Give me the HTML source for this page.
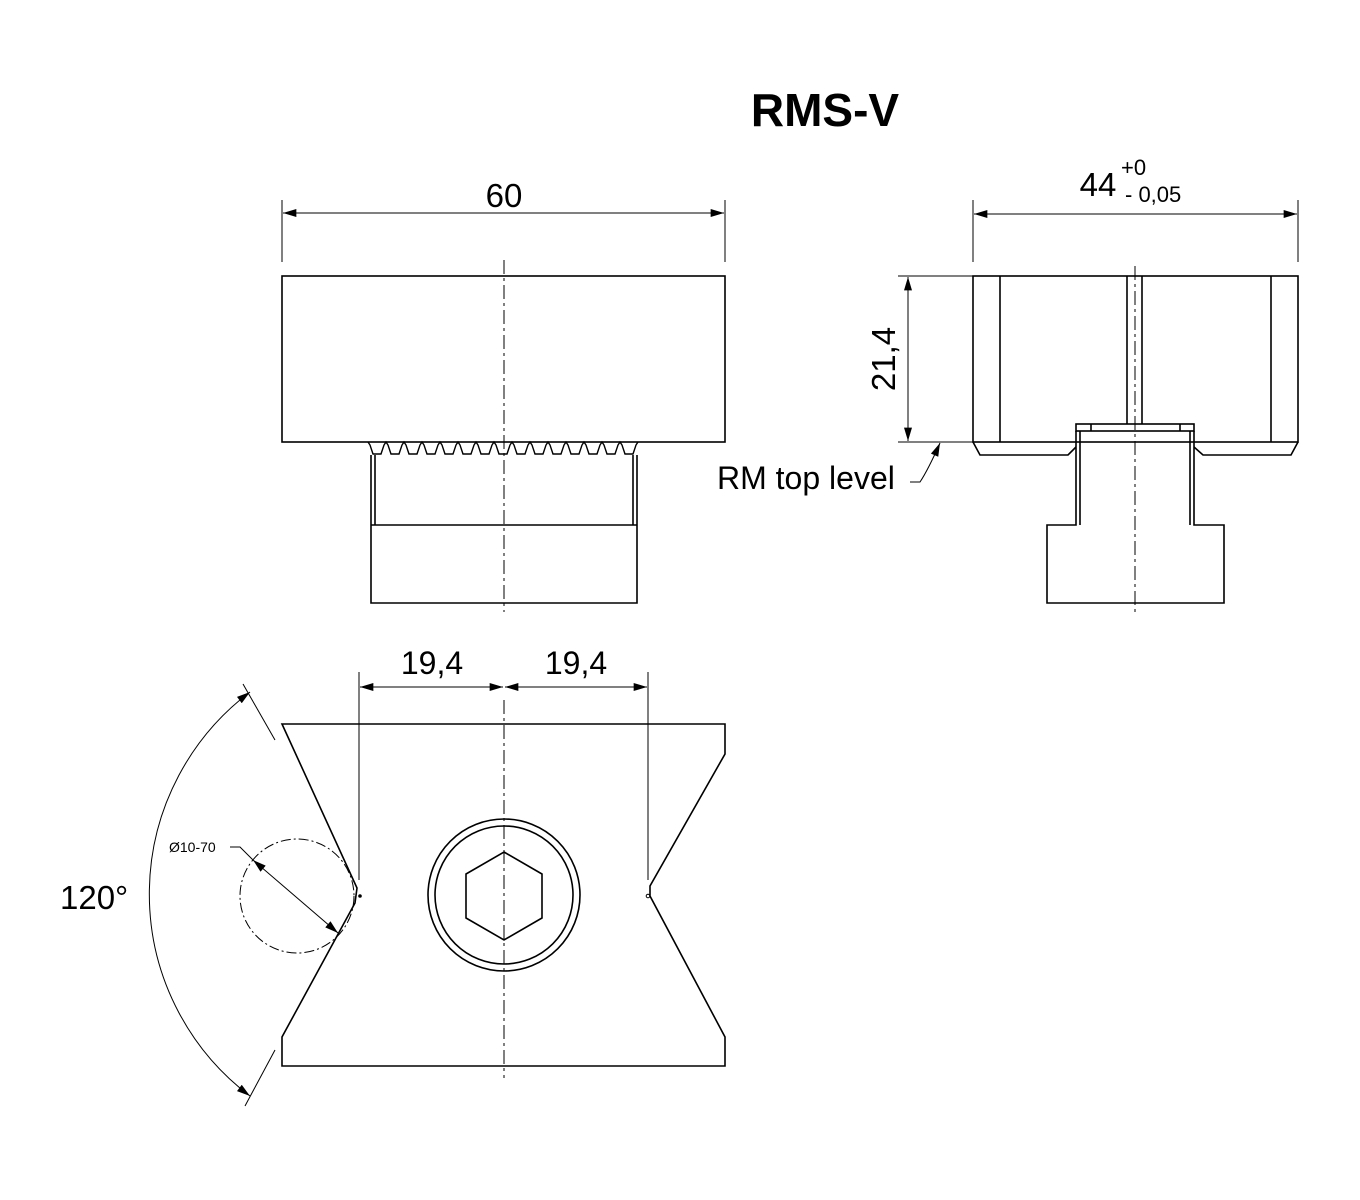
<!DOCTYPE html>
<html><head><meta charset="utf-8"><style>html,body{margin:0;padding:0;background:#fff}svg{display:block}</style></head>
<body>
<svg width="1360" height="1200" viewBox="0 0 1360 1200" xmlns="http://www.w3.org/2000/svg" font-family="Liberation Sans, sans-serif">
<defs>
<marker id="a" viewBox="0 0 10 6" refX="10" refY="3" markerWidth="14" markerHeight="8" markerUnits="userSpaceOnUse" orient="auto-start-reverse"><path d="M0,0L10,3L0,6z" fill="#000"/></marker>
</defs>
<rect width="1360" height="1200" fill="#fff"/>
<text x="825" y="126" font-size="46" font-weight="bold" text-anchor="middle">RMS-V</text>

<g fill="none" stroke="#000" stroke-width="1.6">
<rect x="282" y="276" width="443" height="166"/>
<path d="M371,455V603H637V455"/>
<line x1="371" y1="525" x2="637" y2="525"/>
<line x1="375" y1="455" x2="375" y2="525"/>
<line x1="633" y1="455" x2="633" y2="525"/>
<path d="M368,442 l2,3 l3,9 l8,0 l3,-9 l2,-3 l2,3 l3,9 l8,0 l3,-9 l2,-3 l2,3 l3,9 l8,0 l3,-9 l2,-3 l2,3 l3,9 l8,0 l3,-9 l2,-3 l2,3 l3,9 l8,0 l3,-9 l2,-3 l2,3 l3,9 l8,0 l3,-9 l2,-3 l2,3 l3,9 l8,0 l3,-9 l2,-3 l2,3 l3,9 l8,0 l3,-9 l2,-3 l2,3 l3,9 l8,0 l3,-9 l2,-3 l2,3 l3,9 l8,0 l3,-9 l2,-3 l2,3 l3,9 l8,0 l3,-9 l2,-3 l2,3 l3,9 l8,0 l3,-9 l2,-3 l2,3 l3,9 l8,0 l3,-9 l2,-3 l2,3 l3,9 l8,0 l3,-9 l2,-3 l2,3 l3,9 l8,0 l3,-9 l2,-3" stroke-width="1.4"/>

<rect x="973" y="276" width="325" height="166"/>
<line x1="1000" y1="276" x2="1000" y2="442"/>
<line x1="1271" y1="276" x2="1271" y2="442"/>
<line x1="1127" y1="276" x2="1127" y2="424"/>
<line x1="1142" y1="276" x2="1142" y2="424"/>
<path d="M973,442 L980,455 L1068,455 L1076,447"/>
<path d="M1298,442 L1291,455 L1203,455 L1194,447"/>
<rect x="1076" y="424" width="118" height="7"/>
<line x1="1091" y1="424" x2="1091" y2="431"/>
<line x1="1180" y1="424" x2="1180" y2="431"/>
<path d="M1076,431V525H1047V603H1224V525H1194V431"/>
<line x1="1080" y1="431" x2="1080" y2="525"/>
<line x1="1190" y1="431" x2="1190" y2="525"/>

<path d="M282,724H725V754L650,886L650,896L725,1037V1066H282V1037L355,903L357,888Z"/>
<circle cx="504" cy="895" r="76"/>
<circle cx="504" cy="895" r="69"/>
<path d="M504,852L542,874L542,918L504,940L466,918L466,874Z"/>
</g>
<circle cx="360" cy="896" r="1.8"/>
<circle cx="648" cy="896" r="1.8" fill="none" stroke="#000"/>

<g stroke="#000" stroke-width="1" stroke-dasharray="14,4,3,4" fill="none">
<line x1="504" y1="260" x2="504" y2="612"/>
<line x1="1135" y1="266" x2="1135" y2="612"/>
<line x1="504" y1="700" x2="504" y2="1078"/>
<circle cx="297" cy="896" r="57" stroke-dasharray="10,3,2,3"/>
</g>

<g stroke="#000" stroke-width="1" fill="none">
<line x1="282" y1="200" x2="282" y2="262"/>
<line x1="725" y1="200" x2="725" y2="262"/>
<line x1="283" y1="213" x2="724" y2="213" marker-start="url(#a)" marker-end="url(#a)"/>
<line x1="973" y1="200" x2="973" y2="262"/>
<line x1="1298" y1="200" x2="1298" y2="262"/>
<line x1="974" y1="214" x2="1297" y2="214" marker-start="url(#a)" marker-end="url(#a)"/>
<line x1="898" y1="276" x2="973" y2="276"/>
<line x1="898" y1="442" x2="973" y2="442"/>
<line x1="908" y1="277" x2="908" y2="441" marker-start="url(#a)" marker-end="url(#a)"/>
<path d="M910,482H920Q928,470 940,443" marker-end="url(#a)"/>
<line x1="359" y1="672" x2="359" y2="880"/>
<line x1="648" y1="672" x2="648" y2="880"/>
<line x1="360" y1="687" x2="503" y2="687" marker-start="url(#a)" marker-end="url(#a)"/>
<line x1="505" y1="687" x2="647" y2="687" marker-start="url(#a)" marker-end="url(#a)"/>
<line x1="243" y1="684" x2="275" y2="740"/>
<line x1="275" y1="1050" x2="245" y2="1106"/>
<path d="M250,692 A253,253 0 0 0 250,1096" marker-start="url(#a)" marker-end="url(#a)"/>
<path d="M230,847H240L253,860"/>
<line x1="253" y1="860" x2="338" y2="933" marker-start="url(#a)" marker-end="url(#a)"/>
</g>

<g fill="#000">
<text x="504" y="207" font-size="33" text-anchor="middle">60</text>
<text x="1098" y="196" font-size="33" text-anchor="middle">44</text>
<text x="1121" y="175" font-size="22">+0</text>
<text x="1125" y="202" font-size="22">- 0,05</text>
<text transform="translate(895,359) rotate(-90)" font-size="33" text-anchor="middle">21,4</text>
<text x="717" y="489" font-size="32">RM top level</text>
<text x="432" y="674" font-size="32" text-anchor="middle">19,4</text>
<text x="576" y="674" font-size="32" text-anchor="middle">19,4</text>
<text x="60" y="909" font-size="33">120°</text>
<text x="169" y="852" font-size="14">Ø10-70</text>
</g>
</svg>
</body></html>
